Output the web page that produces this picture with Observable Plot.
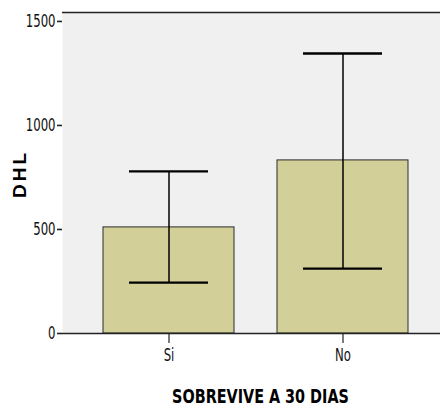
<!DOCTYPE html>
<html>
<head>
<meta charset="utf-8">
<script src="https://cdn.jsdelivr.net/npm/d3@7"></script>
<script src="https://cdn.jsdelivr.net/npm/@observablehq/plot@0.6"></script>
<style>
  html, body { margin: 0; padding: 0; background: #ffffff; }
  #chart svg { display: block; }
</style>
</head>
<body>
<div id="chart"></div>
<script>
const categories = ["Si", "No"];
const means = [510, 832];
const lowers = [245, 312];
const uppers = [779, 1346];
const yTicks = [0, 500, 1000, 1500];
const xTitle = "SOBREVIVE A 30 DIAS";
const yTitle = "DHL";

const rows = categories.map((c, i) => ({cat: c, mean: means[i], lo: lowers[i], hi: uppers[i]}));

const narrow = "'Liberation Sans Narrow', 'Arial Narrow', 'DejaVu Sans Condensed', sans-serif";

const chart = Plot.plot({
  width: 440,
  height: 413,
  marginLeft: 62,
  marginRight: 0,
  marginTop: 12,
  marginBottom: 80,
  style: {background: "#ffffff", color: "#222", fontFamily: narrow, fontSize: "13px"},
  x: {domain: categories, range: [62, 449], paddingInner: 0.247, paddingOuter: 0.23, label: null},
  y: {domain: [0, 1543], label: null},
  marks: [
    Plot.frame({fill: "#f0f0f0", stroke: "none"}),
    Plot.barY(rows, {x: "cat", y: "mean", fill: "#d3cf98", stroke: "#2a2a2a", strokeWidth: 1}),
    Plot.ruleX(rows, {x: "cat", y1: "lo", y2: "hi", stroke: "#000", strokeWidth: 1.5}),
    Plot.tickY(rows, {x: "cat", y: "lo", stroke: "#000", strokeWidth: 2.3, insetLeft: 26, insetRight: 26}),
    Plot.tickY(rows, {x: "cat", y: "hi", stroke: "#000", strokeWidth: 2.3, insetLeft: 26, insetRight: 26}),
    Plot.ruleY([0], {stroke: "#222", strokeWidth: 1.6}),
    Plot.ruleY([1543], {stroke: "#222", strokeWidth: 1.6}),
    Plot.axisY({ticks: yTicks, tickSize: 5, tickPadding: 2, tickFormat: d => String(d), line: true, stroke: "#222", strokeWidth: 1.6, label: null, fontSize: 13, fill: "#111"}),
    Plot.axisX({tickSize: 10, tickPadding: 5, stroke: "#222", strokeWidth: 1.2, label: null, fontSize: 13, fill: "#111"}),
    Plot.text([yTitle], {frameAnchor: "left", textAnchor: "middle", dx: -43, dy: 1, rotate: -90, fontWeight: "bold", fontSize: 19, fontFamily: "'Liberation Sans', Arial, sans-serif", fill: "#000"}),
    Plot.text([xTitle], {frameAnchor: "bottom", dx: 9, dy: 69, fontWeight: "bold", fontSize: 16, fill: "#000"})
  ]
});

document.getElementById("chart").appendChild(chart);

// vertical stretch of the condensed texts (as in the original rendering)
function stretch(el, sy) {
  const t = el.getAttribute("transform");
  if (t) {
    el.setAttribute("transform", t + ` scale(1,${sy})`);
  } else {
    const x = +el.getAttribute("x") || 0;
    const y = +el.getAttribute("y") || 0;
    el.setAttribute("transform", `translate(${x},${y}) scale(1,${sy}) translate(${-x},${-y})`);
  }
}
const yTickStr = yTicks.map(String);
d3.select(chart).selectAll("text").each(function() {
  const s = this.textContent;
  if (s === yTitle) {
    this.style.letterSpacing = "3px";
  } else if (s === xTitle) {
    stretch(this, 1.22);
  } else if (yTickStr.includes(s)) {
    stretch(this, 1.4);
  } else if (categories.includes(s)) {
    stretch(this, 1.3);
  }
});
</script>
</body>
</html>
